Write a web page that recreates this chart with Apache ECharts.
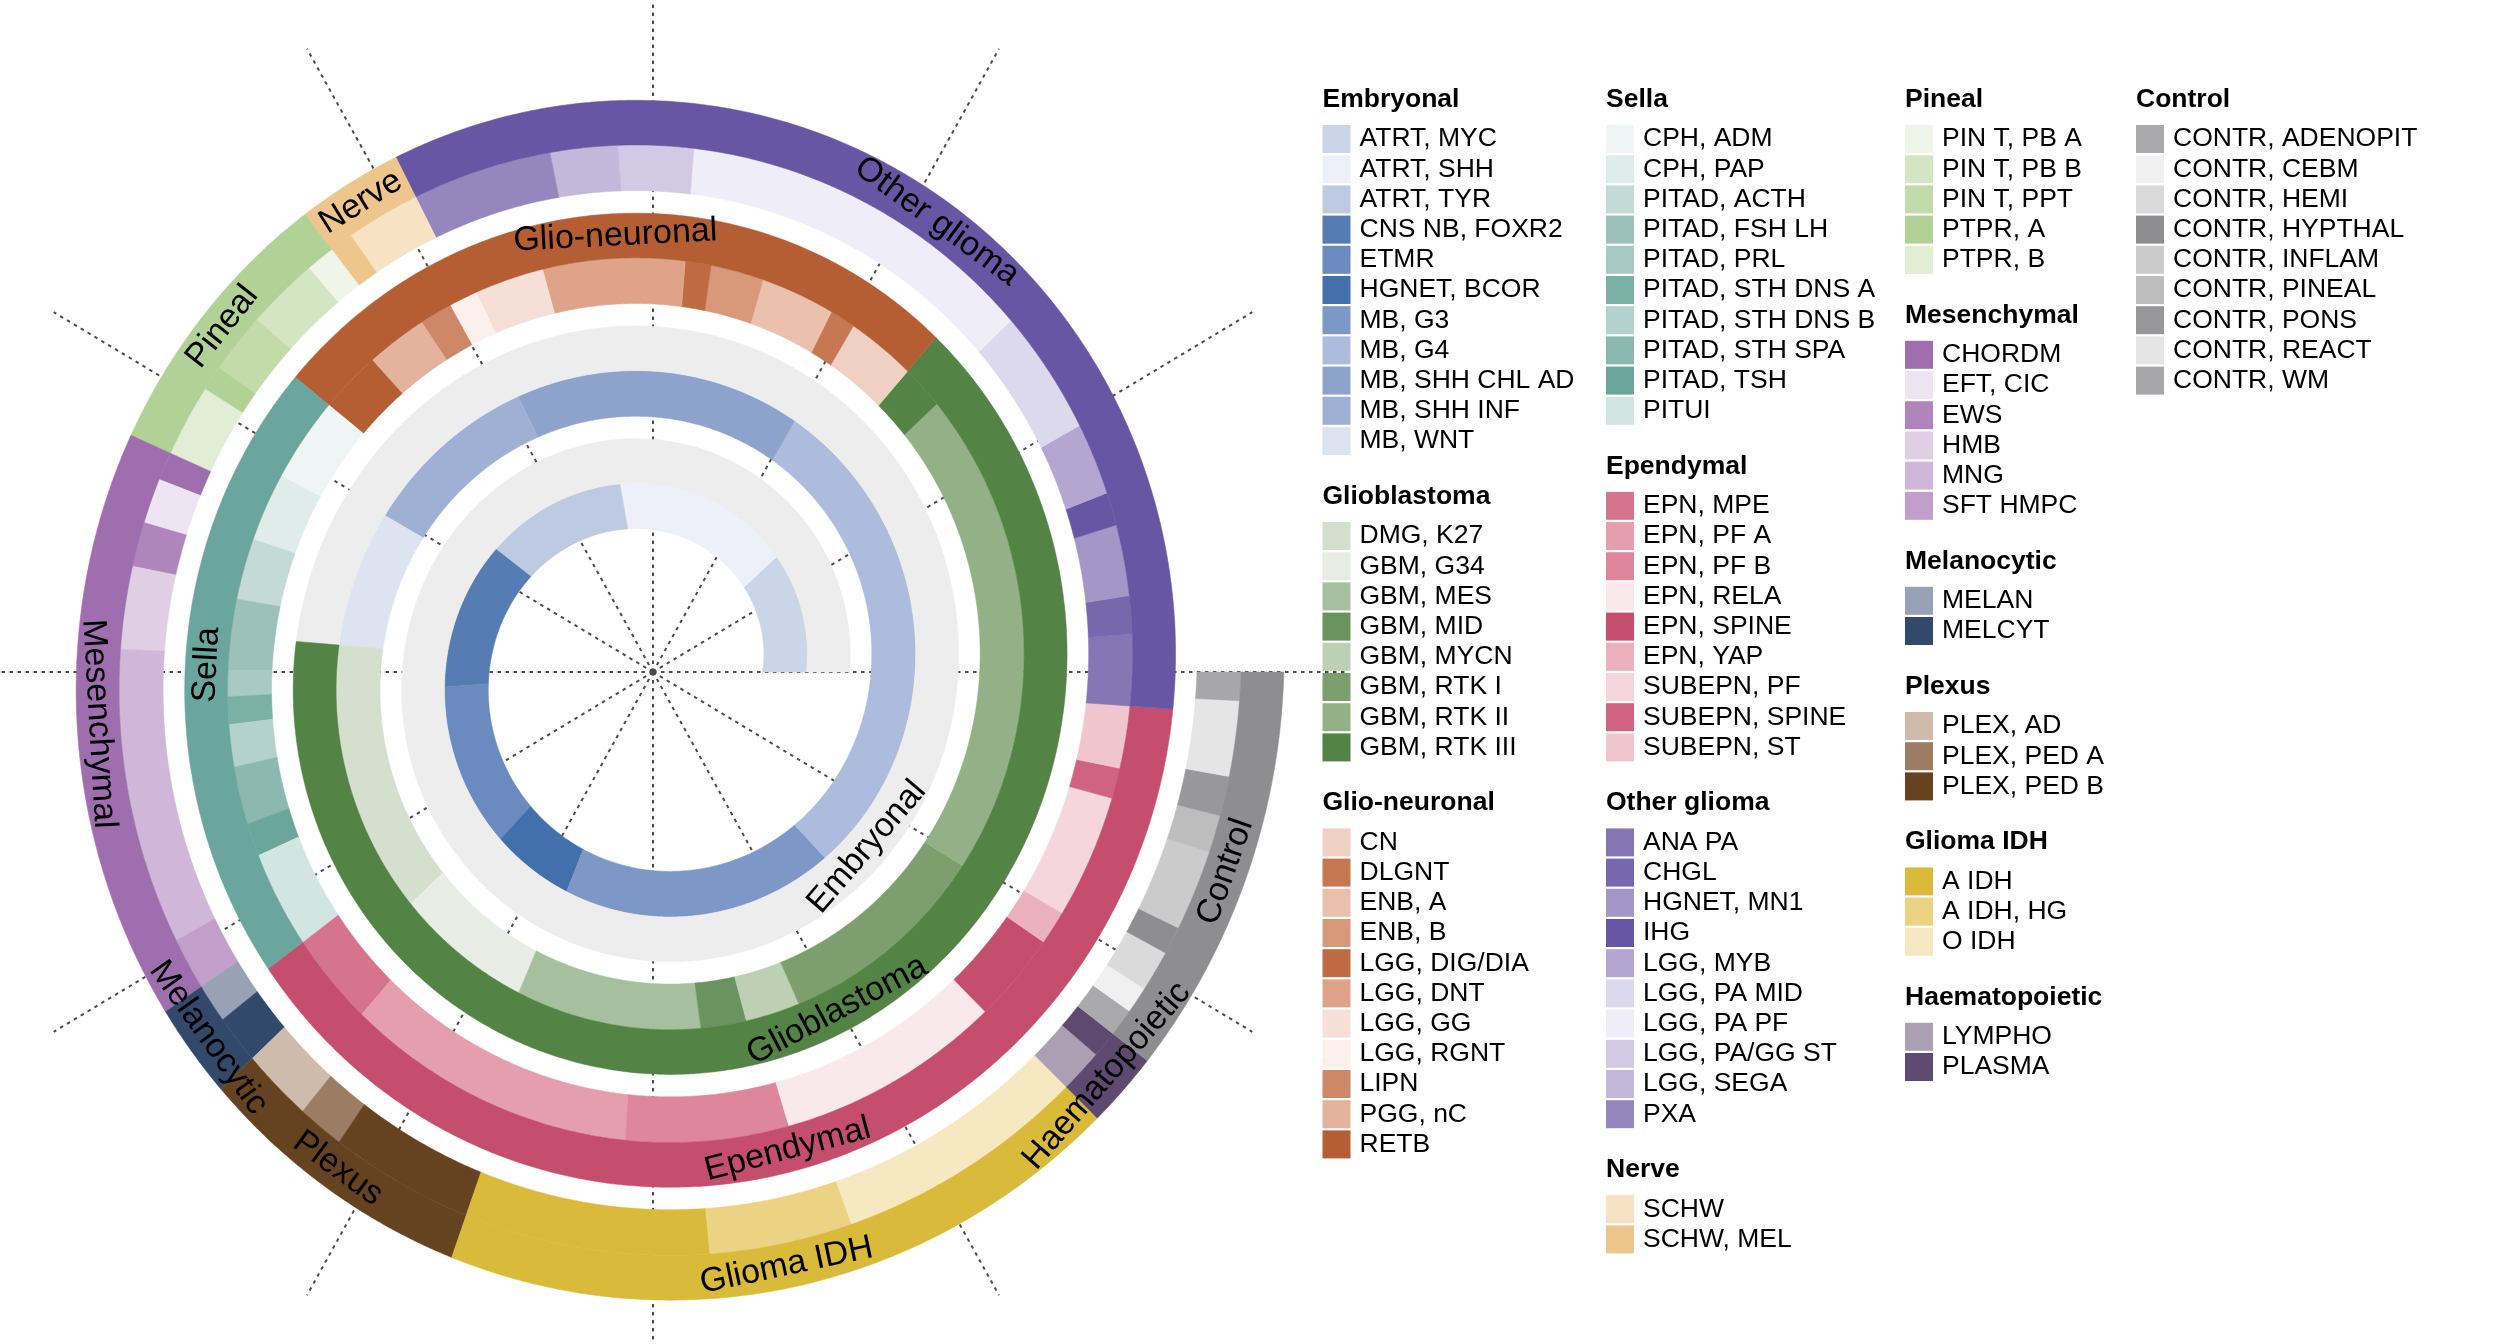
<!DOCTYPE html>
<html>
<head>
<meta charset="utf-8">
<script src="https://cdn.jsdelivr.net/npm/echarts@6/dist/echarts.min.js"></script>
<style>
html,body{margin:0;padding:0;background:#ffffff;}
#chart{width:2496px;height:1344px;}
</style>
</head>
<body>
<div id="chart"></div>
<script>
// ---------------- DATA (sweep of each methylation class) ----------------
const categories = ['Embryonal','Glioblastoma','Glio-neuronal','Sella','Ependymal','Other glioma','Nerve','Pineal','Mesenchymal','Melanocytic','Plexus','Glioma IDH','Haematopoietic','Control'];

const embryonalClasses = ['ATRT, MYC','ATRT, SHH','ATRT, TYR','CNS NB, FOXR2','ETMR','HGNET, BCOR','MB, G3','MB, G4','MB, SHH CHL AD','MB, SHH INF','MB, WNT'];
const embryonalValues = [41.9, 58.5, 42.7, 40.9, 42.6, 21.2, 66.2, 105.7, 57.4, 33.7, 24.6];

const glioblastomaClasses = ['DMG, K27','GBM, G34','GBM, MES','GBM, MID','GBM, MYCN','GBM, RTK I','GBM, RTK II','GBM, RTK III'];
const glioblastomaValues = [47.3, 23.9, 31.5, 7.6, 9.0, 34.4, 73.3, 6.4];

const glioNeuronalClasses = ['CN','DLGNT','ENB, A','ENB, B','LGG, DIG/DIA','LGG, DNT','LGG, GG','LGG, RGNT','LIPN','PGG, nC','RETB'];
const glioNeuronalValues = [10.3, 3.8, 11.0, 7.8, 3.8, 20.6, 9.9, 4.1, 4.6, 8.6, 8.5];

const sellaClasses = ['CPH, ADM','CPH, PAP','PITAD, ACTH','PITAD, FSH LH','PITAD, PRL','PITAD, STH DNS A','PITAD, STH DNS B','PITAD, STH SPA','PITAD, TSH','PITUI'];
const sellaValues = [11.5, 9.2, 8.1, 9.4, 3.4, 3.6, 5.5, 7.5, 4.3, 12.5];

const ependymalClasses = ['EPN, MPE','EPN, PF A','EPN, PF B','EPN, RELA','EPN, SPINE','EPN, YAP','SUBEPN, PF','SUBEPN, SPINE','SUBEPN, ST'];
const ependymalValues = [11.9, 38.0, 20.8, 28.2, 10.9, 4.1, 14.7, 3.6, 7.3];

const otherGliomaClasses = ['ANA PA','CHGL','HGNET, MN1','IHG','LGG, MYB','LGG, PA MID','LGG, PA PF','LGG, PA/GG ST','LGG, SEGA','PXA'];
const otherGliomaValues = [8.3, 4.4, 8.2, 3.8, 8.3, 14.3, 42.0, 8.6, 7.7, 15.8];

const nerveClasses = ['SCHW','SCHW, MEL'];
const nerveValues = [8.3, 2.6];

const pinealClasses = ['PIN T, PB A','PIN T, PB B','PIN T, PPT','PTPR, A','PTPR, B'];
const pinealValues = [3.2, 7.9, 6.6, 2.7, 7.7];

const mesenchymalClasses = ['CHORDM','EFT, CIC','EWS','HMB','MNG','SFT HMPC'];
const mesenchymalValues = [3.0, 4.8, 4.7, 8.7, 30.8, 5.4];

const melanocyticClasses = ['MELAN','MELCYT'];
const melanocyticValues = [4.0, 5.0];

const plexusClasses = ['PLEX, AD','PLEX, PED A','PLEX, PED B'];
const plexusValues = [7.5, 4.9, 15.1];

const gliomaIdhClasses = ['A IDH','A IDH, HG','O IDH'];
const gliomaIdhValues = [25.5, 14.7, 25.5];

const haematopoieticClasses = ['LYMPHO','PLASMA'];
const haematopoieticValues = [4.3, 2.6];

const controlClasses = ['CONTR, ADENOPIT','CONTR, CEBM','CONTR, HEMI','CONTR, HYPTHAL','CONTR, INFLAM','CONTR, PINEAL','CONTR, PONS','CONTR, REACT','CONTR, WM'];
const controlValues = [2.7, 2.6, 4.0, 2.7, 7.8, 3.6, 3.8, 7.2, 2.7];

const spokeAngles = [0, 30, 60, 90, 120, 150, 180, 210, 240, 270, 300, 330];

// ---------------- STYLES ----------------
const categoryColors = ['#EDEDED','#538345','#B55E33','#6AA69D','#C54E6E','#6756A4','#EEC58C','#B2D196','#9E6EAF','#33496C','#664320','#D9BA3B','#5E4970','#8E8E91'];
const classColors = [
  ['#CBD5E8','#EDF0F8','#BDCAE2','#567DB3','#6B8ABF','#4370AC','#7D98C7','#ADBCDC','#8EA3CB','#9EB0D4','#DDE3F0'],
  ['#D4DFCD','#E7EDE4','#A6BF9E','#6A935F','#BDD0B4','#7D9F6E','#93B086','#538345'],
  ['#F0D0C3','#C57852','#EBC1AE','#D8997A','#BF6A42','#DFA38A','#F6DFD6','#FBF0EC','#CE8767','#E4B39D','#B55E33'],
  ['#EFF5F4','#E0ECE9','#C3DAD6','#9BC1BA','#A8CAC4','#7AB0A6','#B3D2CD','#8CB8B1','#6BA69D','#D2E5E2'],
  ['#D6748D','#E59EAD','#DE879C','#F9E9EC','#C54E6E','#EBB1BE','#F6D6DD','#CF6381','#F0C5CE'],
  ['#8677B4','#7767AC','#A596C8','#6756A4','#B4A6D0','#DDD9EC','#EFEDF7','#D2C9E4','#C3B8DA','#9586BE'],
  ['#F7E3C3','#EEC58C'],
  ['#EFF5E9','#D3E5C2','#C2DBA9','#B2D196','#E1EDD4'],
  ['#9E6EAF','#EFE4F2','#AF85BC','#E0CEE5','#D0B6D8','#C29ECB'],
  ['#98A1B5','#33496C'],
  ['#CFBBAB','#9C7C62','#664320'],
  ['#D9BA3B','#ECD283','#F6E8C1'],
  ['#AD9FB3','#5E4970'],
  ['#AAAAAC','#F0F0F0','#DADADA','#8E8E91','#CBCBCC','#BDBDBE','#98989B','#E5E5E5','#A7A7A9']
];

const classNames = [embryonalClasses, glioblastomaClasses, glioNeuronalClasses, sellaClasses, ependymalClasses, otherGliomaClasses, nerveClasses, pinealClasses, mesenchymalClasses, melanocyticClasses, plexusClasses, gliomaIdhClasses, haematopoieticClasses, controlClasses];
const classValues = [embryonalValues, glioblastomaValues, glioNeuronalValues, sellaValues, ependymalValues, otherGliomaValues, nerveValues, pinealValues, mesenchymalValues, melanocyticValues, plexusValues, gliomaIdhValues, haematopoieticValues, controlValues];

// ---------------- LAYOUT ----------------
const CX = 653, CY = 672;     // centre of the spiral (px)
const KY = 1.04;              // vertical stretch of the original figure
const XR = 650, YR = 640;     // data half-ranges
const TOTAL_SWEEP = 1440;     // four turns
const R0 = 109.5, PITCH = 108.6, W_SUB = 44, W_CAT = 43;
const SPOKE_LEN = 692;
const LABEL_ANGLE = { 'Embryonal': 321.8, 'Glioblastoma': 659.5 };
const FONT = '"Liberation Sans", Arial, Helvetica, sans-serif';

const totalValue = classValues.flat().reduce((a, b) => a + b, 0);
const subSegs = [], catSegs = [];
let acc = 0;
categories.forEach((c, ci) => {
  const start = acc * TOTAL_SWEEP / totalValue;
  classValues[ci].forEach((v, j) => {
    const t0 = acc * TOTAL_SWEEP / totalValue;
    acc += v;
    const t1 = acc * TOTAL_SWEEP / totalValue;
    subSegs.push({ t0, t1, d0: 0, d1: W_SUB, color: classColors[ci][j] });
  });
  const end = acc * TOTAL_SWEEP / totalValue;
  catSegs.push({ t0: start, t1: end, d0: W_SUB, d1: W_SUB + W_CAT, color: categoryColors[ci], name: c });
});
const allSegs = subSegs.concat(catSegs);

function rIn(t) { return R0 + PITCH * t / 360; }
function pt(api, t, d) {
  const r = rIn(t) + d, a = t * Math.PI / 180;
  return api.coord([r * Math.cos(a), r * Math.sin(a)]);
}

const option = {
  animation: false,
  backgroundColor: '#ffffff',
  grid: { left: CX - XR, top: CY - YR * KY, width: 2 * XR, height: 2 * YR * KY },
  xAxis: { type: 'value', min: -XR, max: XR, show: false },
  yAxis: { type: 'value', min: -YR, max: YR, show: false },
  series: [
    {
      type: 'custom', name: 'spokes', coordinateSystem: 'cartesian2d', clip: false, silent: true, z: 1,
      data: spokeAngles.map(a => [a]),
      renderItem: function (params, api) {
        const a = api.value(0) * Math.PI / 180;
        const p0 = api.coord([0, 0]);
        const p1 = api.coord([SPOKE_LEN * Math.cos(a), SPOKE_LEN * Math.sin(a)]);
        return { type: 'line', shape: { x1: p0[0], y1: p0[1], x2: p1[0], y2: p1[1] },
          style: { stroke: '#4a4a4a', lineWidth: 2, lineDash: [3.5, 4.5] } };
      }
    },
    {
      type: 'custom', name: 'classes', coordinateSystem: 'cartesian2d', clip: false, silent: true, z: 2,
      data: allSegs.map(s => [s.t0, s.t1, s.d0, s.d1]),
      renderItem: function (params, api) {
        const t0 = api.value(0), t1 = api.value(1), d0 = api.value(2), d1 = api.value(3);
        const n = Math.max(2, Math.ceil((t1 - t0) / 0.4));
        const pts = [];
        for (let i = 0; i <= n; i++) pts.push(pt(api, t0 + (t1 - t0) * i / n, d1));
        for (let i = n; i >= 0; i--) pts.push(pt(api, t0 + (t1 - t0) * i / n, d0));
        const col = allSegs[params.dataIndex].color;
        return { type: 'polygon', shape: { points: pts }, style: { fill: col, stroke: col, lineWidth: 0.5 } };
      }
    },
    {
      type: 'custom', name: 'groupLabels', coordinateSystem: 'cartesian2d', clip: false, silent: true, z: 3,
      data: catSegs.map(s => [LABEL_ANGLE[s.name] !== undefined ? LABEL_ANGLE[s.name] : (s.t0 + s.t1) / 2]),
      renderItem: function (params, api) {
        const t = api.value(0);
        const d = W_SUB + W_CAT / 2;
        const p = pt(api, t, d), pa = pt(api, t - 0.5, d), pb = pt(api, t + 0.5, d);
        let rot = Math.atan2(-(pb[1] - pa[1]), pb[0] - pa[0]);
        if (rot > Math.PI / 2 + 1e-6) rot -= Math.PI;
        if (rot < -Math.PI / 2 - 1e-6) rot += Math.PI;
        return { type: 'text', x: p[0], y: p[1], rotation: rot,
          style: { text: catSegs[params.dataIndex].name, fill: '#000000', fontSize: 34, fontFamily: FONT,
                   align: 'center', verticalAlign: 'middle' } };
      }
    },
    {
      type: 'scatter', name: 'centre', data: [[0, 0]], symbolSize: 7, z: 4, silent: true,
      itemStyle: { color: '#4a4a4a' }
    }
  ],
  graphic: []
};

// ---------------- LEGEND ----------------
const legendColumns = [[0, 1, 2], [3, 4, 5, 6], [7, 8, 9, 10, 11, 12], [13]];
const colX = [1322.5, 1606, 1905, 2136];
const TITLE_Y = 99.5, TITLE_TO_ROW = 39.5, ROW = 30.2, ROW_TO_TITLE = 55.5, SW = 28, TXT_DX = 37;
const g = [];
legendColumns.forEach((cols, k) => {
  let y = TITLE_Y;
  const x = colX[k];
  cols.forEach(ci => {
    g.push({ type: 'text', x: x, y: y, silent: true,
      style: { text: categories[ci], fill: '#000', fontSize: 26.5, fontWeight: 'bold', fontFamily: FONT, align: 'left', verticalAlign: 'middle' } });
    y += TITLE_TO_ROW;
    classNames[ci].forEach((nm, j) => {
      g.push({ type: 'rect', x: x, y: y - SW / 2, silent: true, shape: { x: 0, y: 0, width: SW, height: SW }, style: { fill: classColors[ci][j] } });
      g.push({ type: 'text', x: x + TXT_DX, y: y, silent: true,
        style: { text: nm, fill: '#000', fontSize: 26.5, fontFamily: FONT, align: 'left', verticalAlign: 'middle' } });
      y += ROW;
    });
    y += ROW_TO_TITLE - ROW;
  });
});
option.graphic = g;

const chart = echarts.init(document.getElementById('chart'), null, { renderer: 'canvas' });
chart.setOption(option);
</script>
</body>
</html>
